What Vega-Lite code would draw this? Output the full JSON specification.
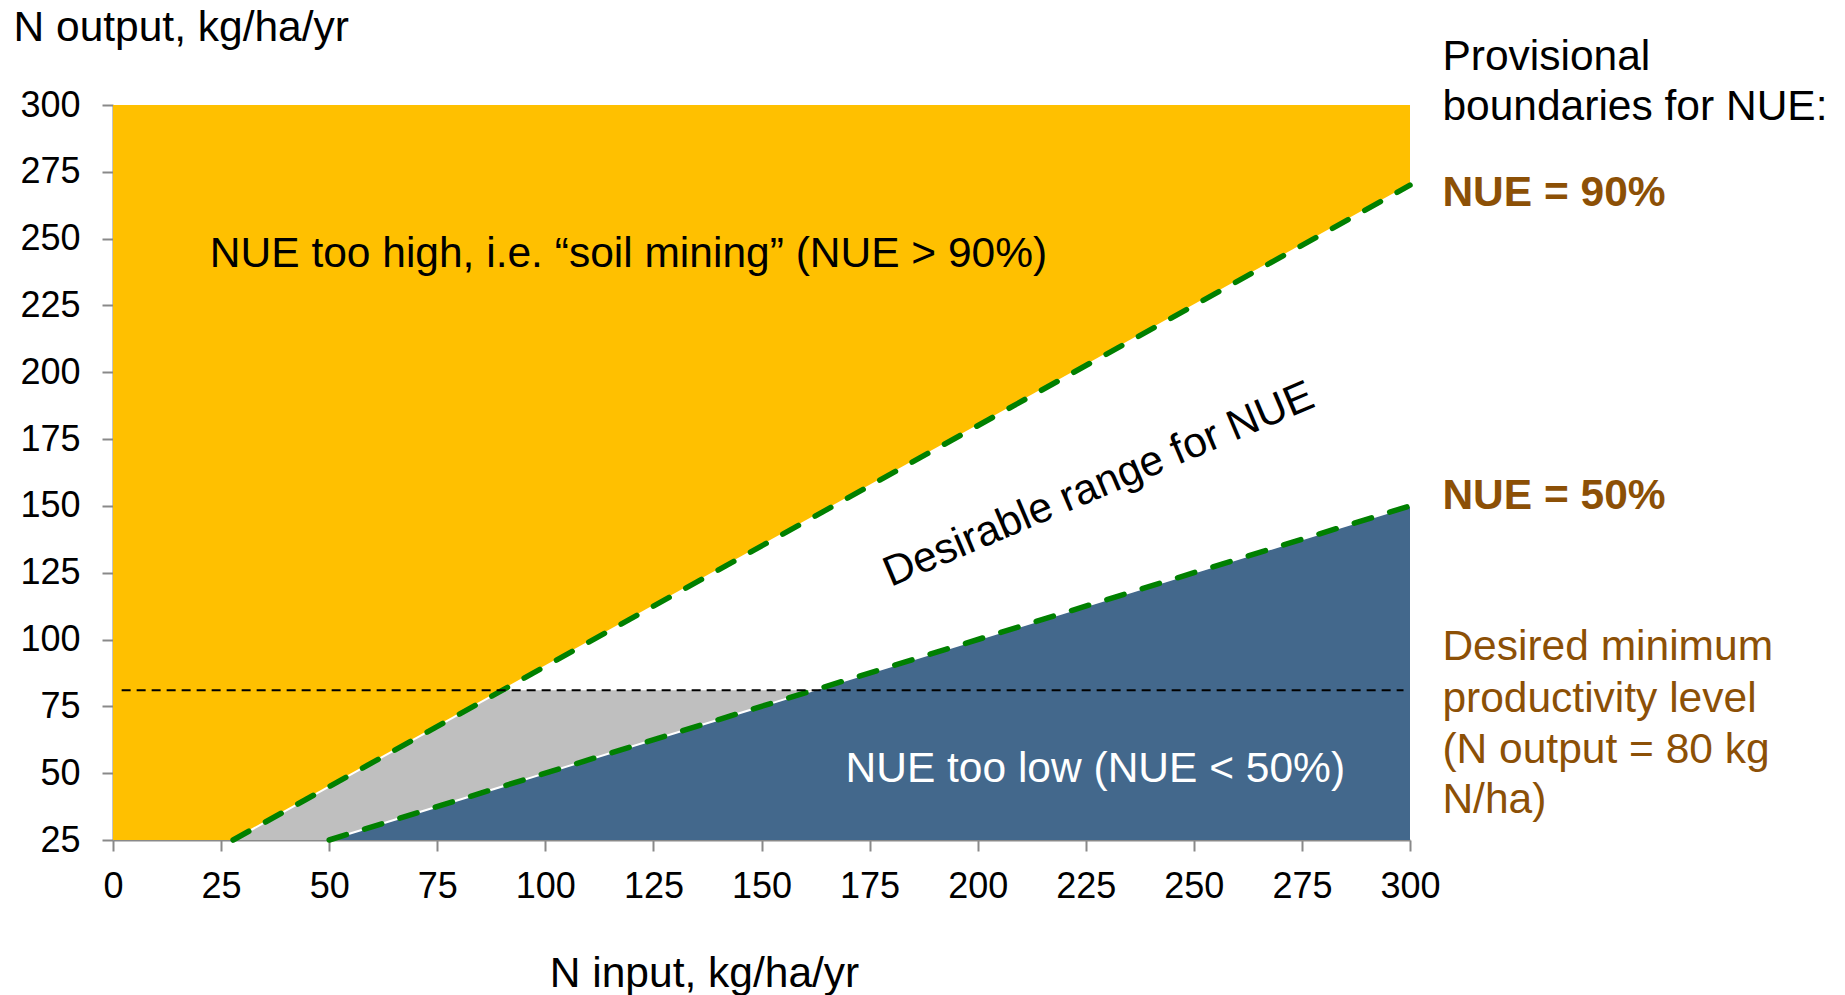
{
  "$schema": "https://vega.github.io/schema/vega-lite/v6.json",
  "width": 1297,
  "height": 735,
  "autosize": {"type": "none"},
  "padding": {"left": 113, "top": 105, "right": 435, "bottom": 155},
  "background": "white",
  "config": {
    "view": {"stroke": null},
    "font": "Liberation Sans",
    "axis": {
      "domainColor": "#898989", "domainWidth": 2,
      "tickColor": "#898989", "tickWidth": 2, "tickSize": 11,
      "labelFont": "Liberation Sans", "labelFontSize": 36, "labelColor": "black",
      "titleFont": "Liberation Sans", "titleFontSize": 42.5, "titleFontWeight": "normal", "titleColor": "black",
      "grid": false, "labelFlush": false, "labelOverlap": false, "labelBound": false
    },
    "text": {"font": "Liberation Sans", "fontSize": 42}
  },
  "datasets": {
    "yellow": [
      {"x": 0, "lo": 25, "hi": 300},
      {"x": 27.78, "lo": 25, "hi": 300},
      {"x": 300, "lo": 270, "hi": 300}
    ],
    "grey": [
      {"x": 27.78, "lo": 25, "hi": 25},
      {"x": 50, "lo": 25, "hi": 45},
      {"x": 90, "lo": 45, "hi": 81},
      {"x": 162, "lo": 81, "hi": 81}
    ],
    "blue": [
      {"x": 50, "lo": 25, "hi": 25},
      {"x": 300, "lo": 25, "hi": 150}
    ],
    "bounds": [
      {"s": "NUE 90%", "x": 27.78, "y": 25},
      {"s": "NUE 90%", "x": 300, "y": 270},
      {"s": "NUE 50%", "x": 50, "y": 25},
      {"s": "NUE 50%", "x": 300, "y": 150}
    ],
    "minimum": [
      {"x": 2, "y": 81},
      {"x": 298.5, "y": 81}
    ],
    "leftText": [
      {"x": 22.4, "y": 239.5, "t": "NUE too high, i.e. “soil mining” (NUE > 90%)"},
      {"x": 307.5, "y": 313.1, "t": "Provisional"},
      {"x": 307.5, "y": 294.4, "t": "boundaries for NUE:"}
    ],
    "lowText": [
      {"x": 227.2, "y": 46.7, "t": "NUE too low (NUE < 50%)"}
    ],
    "rangeText": [
      {"x": 228, "y": 158, "t": "Desirable range for NUE"}
    ],
    "boldText": [
      {"x": 307.5, "y": 262.2, "t": "NUE = 90%"},
      {"x": 307.5, "y": 148.8, "t": "NUE = 50%"}
    ],
    "noteText": [
      {"x": 307.5, "y": 92.3, "t": "Desired minimum"},
      {"x": 307.5, "y": 72.9, "t": "productivity level"},
      {"x": 307.5, "y": 53.8, "t": "(N output = 80 kg"},
      {"x": 307.5, "y": 35.1, "t": "N/ha)"}
    ]
  },
  "layer": [
    {
      "data": {"name": "yellow"},
      "mark": {"type": "area", "color": "#FFC000"},
      "encoding": {
        "x": {
          "field": "x", "type": "quantitative",
          "scale": {"domain": [0, 300], "nice": false, "zero": false},
          "axis": {
            "values": [0, 25, 50, 75, 100, 125, 150, 175, 200, 225, 250, 275, 300],
            "labelPadding": 18,
            "title": "N input, kg/ha/yr",
            "titleX": 591, "titleY": 146,
            "titleAlign": "center", "titleBaseline": "alphabetic"
          }
        },
        "y": {
          "field": "lo", "type": "quantitative",
          "scale": {"domain": [25, 300], "nice": false, "zero": false},
          "axis": {
            "values": [25, 50, 75, 100, 125, 150, 175, 200, 225, 250, 275, 300],
            "labelPadding": 22,
            "title": "N output, kg/ha/yr",
            "titleAngle": 0, "titleX": -100, "titleY": -65,
            "titleAlign": "left", "titleBaseline": "alphabetic"
          }
        },
        "y2": {"field": "hi"}
      }
    },
    {
      "data": {"name": "grey"},
      "mark": {"type": "area", "color": "#BFBFBF"},
      "encoding": {
        "x": {"field": "x", "type": "quantitative"},
        "y": {"field": "lo", "type": "quantitative"},
        "y2": {"field": "hi"}
      }
    },
    {
      "data": {"name": "blue"},
      "mark": {"type": "area", "color": "#43688C"},
      "encoding": {
        "x": {"field": "x", "type": "quantitative"},
        "y": {"field": "lo", "type": "quantitative"},
        "y2": {"field": "hi"}
      }
    },
    {
      "data": {"name": "bounds"},
      "mark": {"type": "line", "color": "white", "strokeWidth": 2},
      "encoding": {
        "x": {"field": "x", "type": "quantitative"},
        "y": {"field": "y", "type": "quantitative"},
        "detail": {"field": "s", "type": "nominal"}
      }
    },
    {
      "data": {"name": "bounds"},
      "mark": {"type": "line", "color": "#008000", "strokeWidth": 5.5, "strokeCap": "round", "strokeDash": [18, 19]},
      "encoding": {
        "x": {"field": "x", "type": "quantitative"},
        "y": {"field": "y", "type": "quantitative"},
        "detail": {"field": "s", "type": "nominal"}
      }
    },
    {
      "data": {"name": "minimum"},
      "mark": {"type": "line", "color": "black", "strokeWidth": 2, "strokeDash": [9, 6]},
      "encoding": {
        "x": {"field": "x", "type": "quantitative"},
        "y": {"field": "y", "type": "quantitative"}
      }
    },
    {
      "data": {"name": "leftText"},
      "mark": {"type": "text", "align": "left", "baseline": "alphabetic", "color": "black", "fontSize": 42.5},
      "encoding": {
        "x": {"field": "x", "type": "quantitative"},
        "y": {"field": "y", "type": "quantitative"},
        "text": {"field": "t"}
      }
    },
    {
      "data": {"name": "lowText"},
      "mark": {"type": "text", "align": "center", "baseline": "alphabetic", "color": "white", "fontSize": 42.5},
      "encoding": {
        "x": {"field": "x", "type": "quantitative"},
        "y": {"field": "y", "type": "quantitative"},
        "text": {"field": "t"}
      }
    },
    {
      "data": {"name": "rangeText"},
      "mark": {"type": "text", "align": "center", "baseline": "middle", "color": "black", "fontSize": 42.5, "angle": -23},
      "encoding": {
        "x": {"field": "x", "type": "quantitative"},
        "y": {"field": "y", "type": "quantitative"},
        "text": {"field": "t"}
      }
    },
    {
      "data": {"name": "boldText"},
      "mark": {"type": "text", "align": "left", "baseline": "alphabetic", "color": "#8C5006", "fontSize": 42.5, "fontWeight": "bold"},
      "encoding": {
        "x": {"field": "x", "type": "quantitative"},
        "y": {"field": "y", "type": "quantitative"},
        "text": {"field": "t"}
      }
    },
    {
      "data": {"name": "noteText"},
      "mark": {"type": "text", "align": "left", "baseline": "alphabetic", "color": "#8C5006", "fontSize": 42.5},
      "encoding": {
        "x": {"field": "x", "type": "quantitative"},
        "y": {"field": "y", "type": "quantitative"},
        "text": {"field": "t"}
      }
    }
  ]
}
